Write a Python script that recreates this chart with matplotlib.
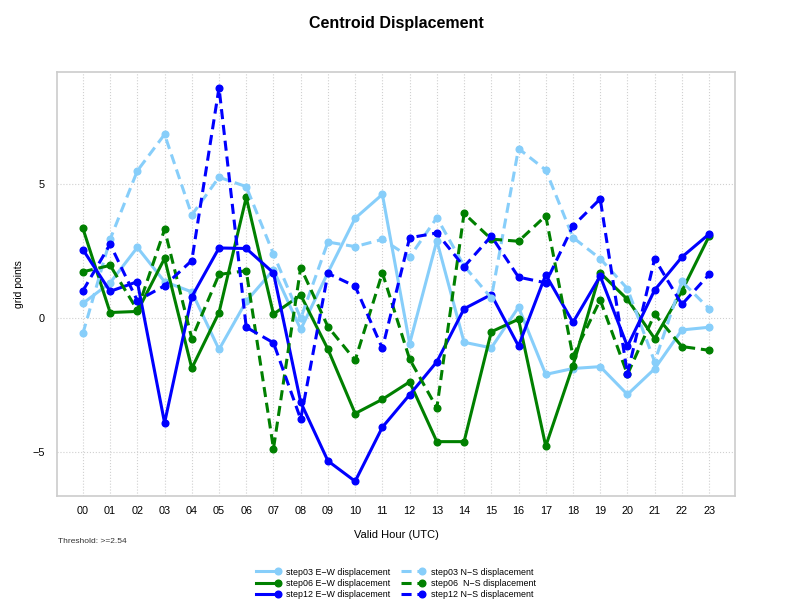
import numpy as np
import matplotlib
matplotlib.use("Agg")
import matplotlib.pyplot as plt
from matplotlib.legend_handler import HandlerLine2D

plt.rcParams['font.family'] = ['Liberation Sans', 'DejaVu Sans']

hours = ['%02d' % h for h in range(24)]

# E-W displacement (solid lines)
ew_step03 = [0.55, 1.32, 2.64, 1.36, 0.98, -1.17, 0.63, 1.80, -0.42, 1.70, 3.73, 4.62,
             -0.95, 2.89, -0.90, -1.11, 0.41, -2.10, -1.88, -1.81, -2.85, -1.89, -0.44, -0.34]
ew_step06 = [3.35, 0.21, 0.25, 2.23, -1.87, 0.21, 4.51, 0.15, 0.86, -1.16, -3.56, -3.03,
             -2.38, -4.61, -4.61, -0.51, -0.04, -4.78, -1.77, 1.69, 0.70, -0.76, 1.01, 3.06]
ew_step12 = [2.56, 1.00, 1.36, -3.91, 0.80, 2.62, 2.60, 1.69, -3.14, -5.33, -6.09, -4.07,
             -2.86, -1.63, 0.35, 0.88, -1.04, 1.62, -0.16, 1.57, -1.05, 1.05, 2.28, 3.14]

# N-S displacement (dashed lines)
ns_step03 = [-0.57, 2.94, 5.50, 6.86, 3.85, 5.26, 4.91, 2.39, -0.01, 2.84, 2.67, 2.94,
             2.28, 3.75, 1.95, 0.75, 6.33, 5.53, 3.01, 2.22, 1.10, -1.63, 1.37, 0.35]
ns_step06 = [1.73, 1.97, 0.30, 3.31, -0.76, 1.63, 1.77, -4.87, 1.89, -0.32, -1.57, 1.69,
             -1.53, -3.35, 3.91, 2.95, 2.87, 3.82, -1.43, 0.68, -2.10, 0.15, -1.06, -1.20]
ns_step12 = [1.02, 2.76, 0.65, 1.21, 2.15, 8.60, -0.34, -0.92, -3.77, 1.67, 1.19, -1.13,
             3.00, 3.18, 1.92, 3.06, 1.53, 1.32, 3.44, 4.45, -2.08, 2.22, 0.51, 1.63]

labels_ew = ['step03 E\u2212W displacement', 'step06 E\u2212W displacement', 'step12 E\u2212W displacement']
labels_ns = ['step03 N\u2212S displacement', 'step06  N\u2212S displacement', 'step12 N\u2212S displacement']
colors = ['#87CEFA', '#008000', '#0000FF']
threshold = 2.54


class EndMarkerHandler(HandlerLine2D):
    # put the dot at the right end of the legend line instead of the middle
    def create_artists(self, legend, orig_handle, xdescent, ydescent, width, height,
                       fontsize, trans):
        artists = super().create_artists(legend, orig_handle, xdescent, ydescent,
                                         width, height, fontsize, trans)
        artists[0].set_markevery([2])
        return artists


fig = plt.figure(figsize=(7.92, 6.12), dpi=100)
ax = fig.add_axes([0.072, 0.1895, 0.856, 0.6925])

x = np.arange(len(hours))
lw = 2.2
ms = 4.8
handles = []
for vals, col, lab in zip([ew_step03, ew_step06, ew_step12], colors, labels_ew):
    h, = ax.plot(x, vals, color=col, lw=lw, marker='o', ms=ms, label=lab)
    handles.append(h)
for vals, col, lab in zip([ns_step03, ns_step06, ns_step12], colors, labels_ns):
    h, = ax.plot(x, vals, color=col, lw=lw, marker='o', ms=ms, label=lab,
                 linestyle=(0, (3.3, 1.9)))
    handles.append(h)

ax.set_xlim(-0.95, 23.95)
ax.set_ylim(-6.64, 9.18)
ax.set_xticks(x)
ax.set_xticklabels(hours)
ax.set_yticks([-5, 0, 5])
ax.grid(True, color='#d0d0d0', linestyle=':', linewidth=0.8)
ax.set_axisbelow(True)
for s in ax.spines.values():
    s.set_color('#cccccc')
    s.set_linewidth(1.2)
ax.tick_params(axis='both', length=0, labelsize=7.8, colors='black')
ax.tick_params(axis='x', pad=7)
ax.tick_params(axis='y', pad=9)

ax.set_xlabel('Valid Hour (UTC)', fontsize=8, labelpad=10)
ax.set_ylabel('grid points', fontsize=7.5, labelpad=6)

fig.text(0.5, 0.962, 'Centroid Displacement', ha='center', va='center',
         fontsize=11.5, fontweight='bold')
fig.text(0.073, 0.116, 'Threshold: >=%.2f' % threshold, ha='left', va='center',
         fontsize=6, color='#333333')

leg = fig.legend(handles=handles, loc='center', bbox_to_anchor=(0.5, 0.047), ncol=2,
                 frameon=False, fontsize=6.4, handlelength=2.4, handletextpad=1.0,
                 columnspacing=1.1, labelspacing=0.25, borderpad=0,
                 handler_map={h: EndMarkerHandler() for h in handles})

fig.savefig('out.png', dpi=100)
